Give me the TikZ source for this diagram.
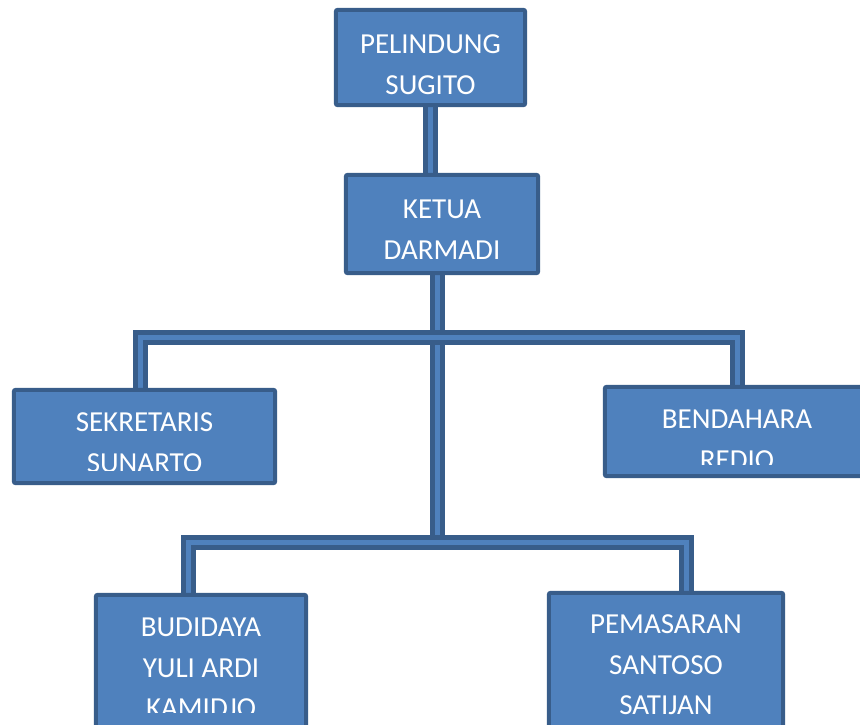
\documentclass[tikz,border=0pt]{standalone}
\usepackage{fontspec}
\newfontfamily\orgfont{Carlito}
\definecolor{boxblue}{HTML}{4F81BD}
\definecolor{boxedge}{HTML}{385D8A}
\begin{document}
\begin{tikzpicture}[x=1pt, y=-1pt,
		unit/.style = {inner sep=0pt},
		unittext/.style = {anchor=north, inner sep=0pt, align=center, text=white, font=\orgfont\fontsize{29}{40.5}\selectfont},
		bar/.style = {draw=boxedge, line width=5pt, double=boxblue, double distance=5pt, line join=miter}]
			\useasboundingbox (0,0) rectangle (860,725);
			%junctions of the two buses
			\coordinate (bus1) at (437,337);
			\coordinate (bus2) at (437,542);
			%places of the boxes
			\node[unit, minimum width=189pt, minimum height=95pt] (pel) at (430.5,57.5) {};
			\node[unit, minimum width=192pt, minimum height=98pt] (ket) at (442,224) {};
			\node[unit, minimum width=261pt, minimum height=93pt] (sek) at (144.5,436.5) {};
			\node[unit, minimum width=264pt, minimum height=89pt] (ben) at (737,431.5) {};
			\node[unit, minimum width=210pt, minimum height=134pt] (bud) at (201,662) {};
			\node[unit, minimum width=234pt, minimum height=138pt] (pem) at (666,662) {};
			%connectors
			\draw[bar] (pel.south) -- (pel.south |- ket.north);
			\draw[bar] ([xshift=-5pt]ket.south) -- (bus2);
			\draw[bar] ([xshift=-4.5pt]sek.north) |- (bus1) -| (ben.north);
			\draw[bar] ([xshift=-13pt]bud.north) |- (bus2) -| ([xshift=20pt]pem.north);
			%boxes, over the connector ends
			\foreach \b in {pel,ket,sek,ben,bud,pem}
				\draw[draw=boxedge, fill=boxblue, line width=4pt, rounded corners=2pt] (\b.south west) rectangle (\b.north east);
			%texts, cut at the inner bottom of each box
			\begin{scope}
				\clip ([shift={(4pt,4pt)}]pel.south west) rectangle ([shift={(-4pt,-4pt)}]pel.north east);
				\node[unittext] (pel-t) at ([yshift=-25pt]pel.north) {PELINDUNG\\SUGITO};
			\end{scope}
			\begin{scope}
				\clip ([shift={(4pt,4pt)}]ket.south west) rectangle ([shift={(-4pt,-4pt)}]ket.north east);
				\node[unittext] (ket-t) at ([yshift=-25pt]ket.north) {KETUA\\DARMADI};
			\end{scope}
			\begin{scope}
				\clip ([shift={(4pt,12.5pt)}]sek.south west) rectangle ([shift={(-4pt,-4pt)}]sek.north east);
				\node[unittext] (sek-t) at ([yshift=-23pt]sek.north) {SEKRETARIS\\SUNARTO};
			\end{scope}
			\begin{scope}
				\clip ([shift={(4pt,12pt)}]ben.south west) rectangle ([shift={(-4pt,-4pt)}]ben.north east);
				\node[unittext] (ben-t) at ([yshift=-23pt]ben.north) {BENDAHARA\\REDIO};
			\end{scope}
			\begin{scope}
				\clip ([shift={(4pt,17pt)}]bud.south west) rectangle ([shift={(-4pt,-4pt)}]bud.north east);
				\node[unittext] (bud-t) at ([yshift=-23pt]bud.north) {BUDIDAYA\\YULI ARDI\\KAMIDJO};
			\end{scope}
			\begin{scope}
				\clip ([shift={(4pt,12pt)}]pem.south west) rectangle ([shift={(-4pt,-4pt)}]pem.north east);
				\node[unittext] (pem-t) at ([yshift=-22pt]pem.north) {PEMASARAN\\SANTOSO\\SATIJAN};
			\end{scope}
		\end{tikzpicture}
\end{document}
